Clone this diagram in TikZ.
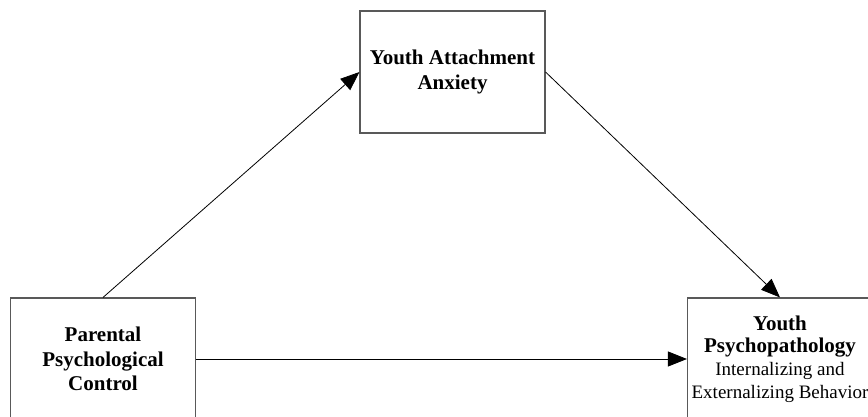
\documentclass[tikz,border=0pt]{standalone}
\usepackage{fontspec}
\setmainfont{Liberation Serif}
\usetikzlibrary{arrows.meta}
\begin{document}
\begin{tikzpicture}[x=1pt,y=-1pt,
  varbox/.style={draw=black!65, line width=1.1pt, rectangle,
    minimum width=185pt, minimum height=122pt, align=center,
    inner sep=0pt},
  path/.style={draw=black, line width=0.8pt,
    -{Triangle[length=19pt,width=15pt]}},
  bigbold/.style={font=\fontsize{21}{24.5}\selectfont\bfseries},
  mixed/.style={font=\fontsize{19}{22.3}\selectfont}]
  \useasboundingbox (0,0) rectangle (868,417);
  \clip (0,0) rectangle (868,417);

  % the three variables of the mediation model
  \node[varbox, bigbold] (pcontrol) at (103,359)
    {Parental\\Psychological\\Control};
  \node[varbox, bigbold] (anxiety) at (452.5,72)
    {Youth Attachment\\Anxiety};
  \node[varbox, mixed] (psychopath) at (780,359)
    {{\fontsize{21}{22}\selectfont\bfseries Youth}\\
     {\fontsize{21}{22}\selectfont\bfseries Psychopathology}\\[1pt]
     Internalizing and\\
     Externalizing Behavior};

  % indirect and direct paths
  \draw[path] (pcontrol.north) -- (anxiety.west);
  \draw[path] (anxiety.east) -- (psychopath.north);
  \draw[path] (pcontrol.east) -- (psychopath.west);
\end{tikzpicture}
\end{document}
